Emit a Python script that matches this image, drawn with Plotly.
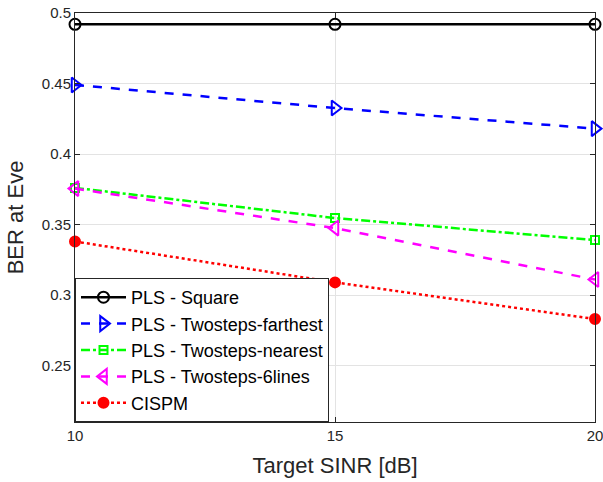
import plotly.graph_objects as go

x = [10, 15, 20]
square = [0.492, 0.492, 0.492]
farthest = [0.449, 0.4326, 0.418]
nearest = [0.376, 0.3546, 0.339]
sixlines = [0.3755, 0.3475, 0.311]
cispm = [0.338, 0.309, 0.283]

series = [
    ("PLS - Square", square, "black", "solid", "circle-open", 11),
    ("PLS - Twosteps-farthest", farthest, "blue", "dash", "triangle-right-open", 13),
    ("PLS - Twosteps-nearest", nearest, "#00ff00", "dashdot", "square-open", 8),
    ("PLS - Twosteps-6lines", sixlines, "magenta", "dash", "triangle-left-open", 13),
    ("CISPM", cispm, "red", "dot", "circle", 10),
]

FONT = "Liberation Sans, Arial"

fig = go.Figure()
for name, y, c, dash, sym, sz in series:
    fig.add_trace(go.Scatter(
        x=x, y=y, name=name, mode="lines+markers",
        line=dict(color=c, dash=dash, width=2.5),
        marker=dict(symbol=sym, size=sz, color=c, line=dict(color=c, width=2)),
        cliponaxis=False,
    ))

axis_common = dict(
    showline=True, linecolor="#262626", linewidth=1, mirror="ticks",
    ticks="inside", ticklen=5, tickcolor="#262626",
    showgrid=True, gridcolor="#e3e3e3", gridwidth=1, zeroline=False,
    tickfont=dict(family=FONT, size=15, color="#262626"),
    ticklabeloverflow="allow", automargin=False,
)

fig.update_xaxes(range=[10, 20], tickvals=[10, 15, 20],
                 title=dict(text="Target SINR [dB]", font=dict(family=FONT, size=22, color="#262626"), standoff=14),
                 **axis_common)
fig.update_yaxes(range=[0.21, 0.5], tickvals=[0.25, 0.3, 0.35, 0.4, 0.45, 0.5],
                 ticktext=["0.25", "0.3", "0.35", "0.4", "0.45", "0.5"],
                 title=dict(text="BER at Eve", font=dict(family=FONT, size=22, color="#262626"), standoff=12),
                 **axis_common)

fig.update_layout(
    width=603, height=482,
    margin=dict(l=75, r=8, t=13, b=60),
    plot_bgcolor="white", paper_bgcolor="white",
    legend=dict(x=0, y=0, xanchor="left", yanchor="bottom",
                bgcolor="white", bordercolor="#262626", borderwidth=1,
                font=dict(family=FONT, size=18, color="black"),
                itemwidth=45, tracegroupgap=0),
)

fig.write_html("out.html", config={"displayModeBar": False},
               post_script="document.body.style.margin='0';document.body.style.overflow='hidden';")
